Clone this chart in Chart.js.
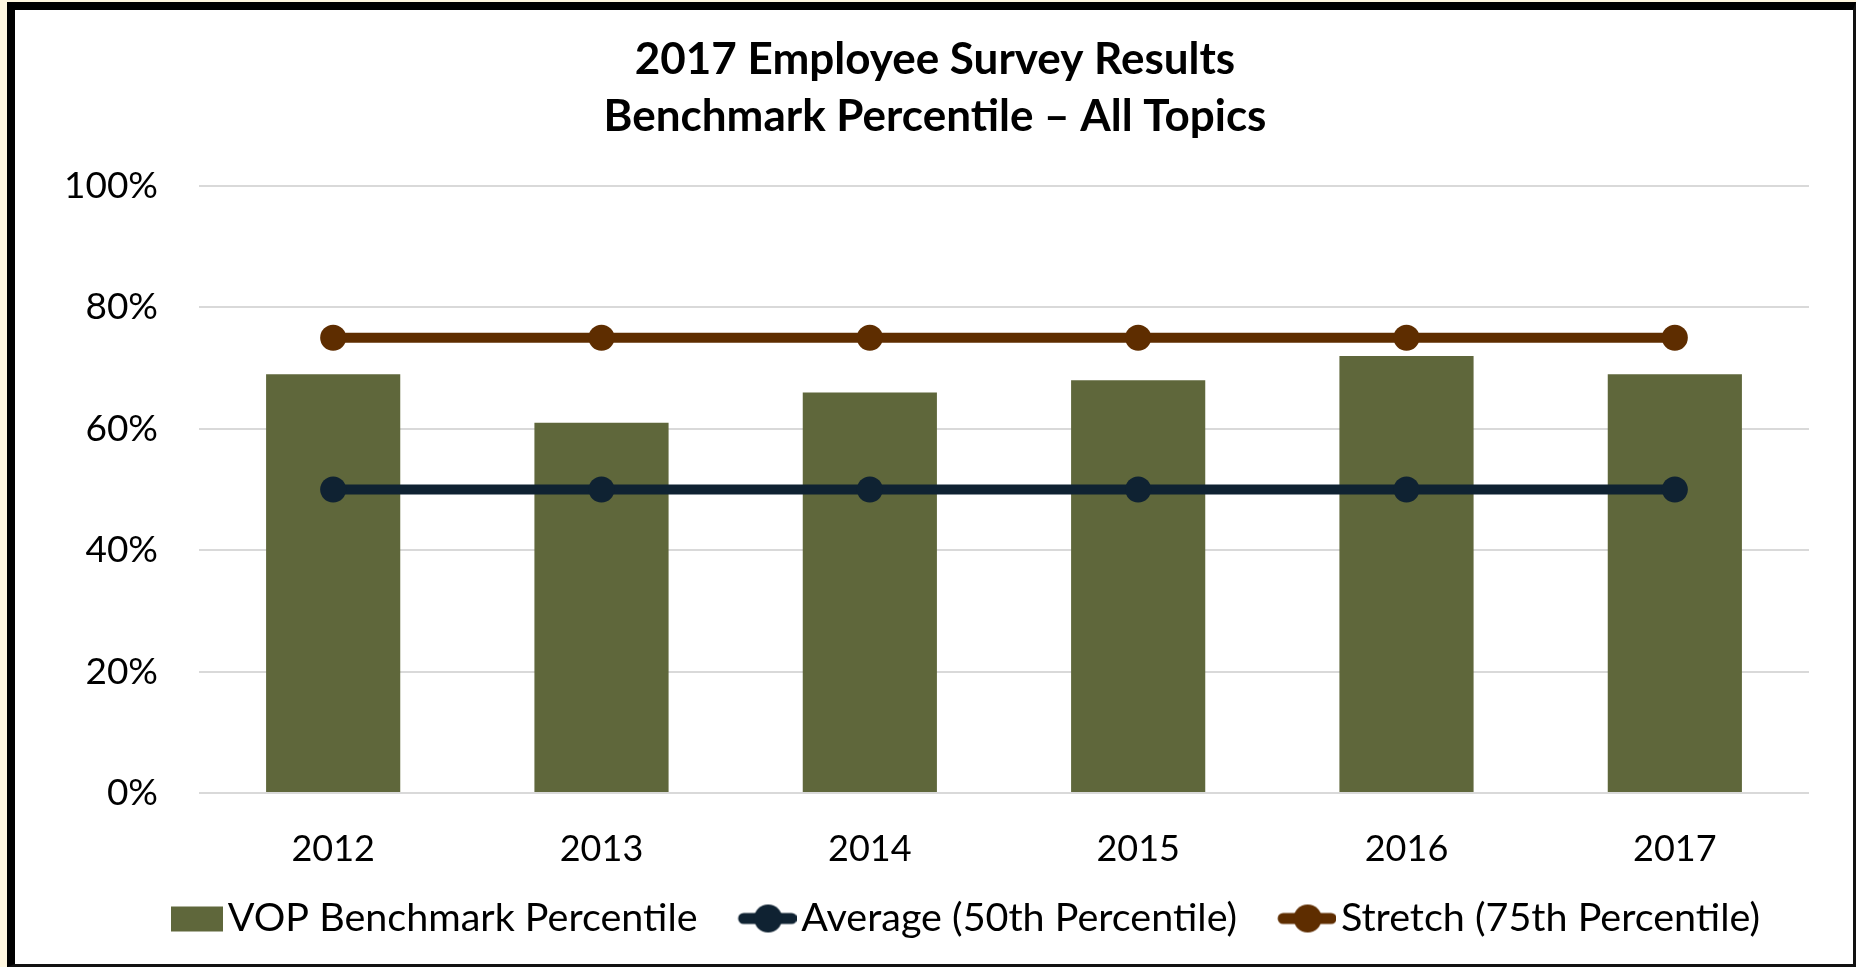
<!DOCTYPE html>
<html>
<head>
<meta charset="utf-8">
<script src="https://cdn.jsdelivr.net/npm/chart.js@4.4.1/dist/chart.umd.min.js"></script>
<style>
  html, body { margin: 0; padding: 0; background: #FFF7E0; width: 1856px; height: 967px; overflow: hidden; }
  #frame {
    position: absolute; left: 7px; top: 2px;
    width: 1838px; height: 954px;
    background: #ffffff;
    border-left: 8px solid #000; border-top: 8px solid #000;
    border-right: 3px solid #111; border-bottom: 3px solid #111;
  }
  #chart { display: block; }
</style>
</head>
<body>
<div id="frame"><canvas id="chart" width="1838" height="954"></canvas></div>
<script>
// Survey years
const years = ['2012', '2013', '2014', '2015', '2016', '2017'];
// VOP benchmark percentile per year (%)
const vopPercentile = [69, 61, 66, 68, 72, 69];
// Reference lines (%)
const averageLine = [50, 50, 50, 50, 50, 50];
const stretchLine = [75, 75, 75, 75, 75, 75];
// Y axis ticks (%)
const yTicks = [0, 20, 40, 60, 80, 100];

const seriesNames = ['VOP Benchmark Percentile', 'Average (50th Percentile)', 'Stretch (75th Percentile)'];
const titleLines = ['2017 Employee Survey Results', 'Benchmark Percentile \u2013 All Topics'];

const OLIVE = '#5F673B';
const NAVY = '#0F2232';
const BROWN = '#5E2D00';
const FONT = 'Lato, "Open Sans", sans-serif';

// Legend swatches: a filled box for the bars, a line with a dot for the lines
function swatchRect(color) {
  const c = document.createElement('canvas');
  c.width = 104; c.height = 28;
  const g = c.getContext('2d');
  g.fillStyle = color;
  g.fillRect(52, 2, 52, 25);
  return c;
}
function swatchLine(color) {
  const c = document.createElement('canvas');
  c.width = 104; c.height = 30;
  const g = c.getContext('2d');
  g.strokeStyle = color; g.lineWidth = 11; g.lineCap = 'round';
  g.beginPath(); g.moveTo(51, 15); g.lineTo(99, 15); g.stroke();
  g.fillStyle = color;
  g.beginPath(); g.arc(75.5, 15, 14, 0, Math.PI * 2); g.fill();
  return c;
}
const swatches = [swatchRect(OLIVE), swatchLine(NAVY), swatchLine(BROWN)];

// Nudge title and legend horizontally; keep glyphs unligated
const boxShift = {
  id: 'boxShift',
  beforeInit(chart) {
    try { chart.ctx.letterSpacing = '0.2px'; } catch (e) {}
  },
  afterLayout(chart) {
    const lg = chart.legend;
    if (lg) { lg.left += 35; lg.right += 35; }
    const tt = chart.titleBlock;
    if (tt) { tt.left += 23; tt.right += 23; }
  }
};

new Chart(document.getElementById('chart'), {
  data: {
    labels: years,
    datasets: [
      {
        type: 'bar', label: seriesNames[0], data: vopPercentile,
        backgroundColor: OLIVE, borderWidth: 0,
        categoryPercentage: 1.0, barPercentage: 0.5, order: 3
      },
      {
        type: 'line', label: seriesNames[1], data: averageLine,
        borderColor: NAVY, backgroundColor: NAVY, borderWidth: 10,
        pointRadius: 13, pointHoverRadius: 13, pointBorderWidth: 0,
        pointBackgroundColor: NAVY, fill: false, order: 2
      },
      {
        type: 'line', label: seriesNames[2], data: stretchLine,
        borderColor: BROWN, backgroundColor: BROWN, borderWidth: 10,
        pointRadius: 13, pointHoverRadius: 13, pointBorderWidth: 0,
        pointBackgroundColor: BROWN, fill: false, order: 1
      }
    ]
  },
  options: {
    responsive: false,
    animation: false,
    layout: { padding: { top: 0, left: 0, right: 44, bottom: 15.75 } },
    plugins: {
      tooltip: { enabled: false },
      title: {
        display: true, text: titleLines, color: '#000',
        font: { family: FONT, size: 44, weight: 'bold', lineHeight: 57 / 44 },
        padding: { top: 21.5, bottom: 40.5 }
      },
      legend: {
        position: 'bottom',
        labels: {
          usePointStyle: true, pointStyleWidth: 74, padding: 10,
          color: '#000', font: { family: FONT, size: 39.5 },
          sort: (a, b) => a.datasetIndex - b.datasetIndex,
          generateLabels(chart) {
            const items = Chart.defaults.plugins.legend.labels.generateLabels(chart);
            items.forEach(it => { it.pointStyle = swatches[it.datasetIndex]; it.lineWidth = 0; });
            return items;
          }
        }
      }
    },
    scales: {
      x: {
        grid: { display: false, drawTicks: false },
        border: { display: false },
        ticks: { color: '#000', font: { family: FONT, size: 36 }, padding: 35 },
        afterFit(scale) { scale.height = 95.75; }
      },
      y: {
        min: 0, max: 100,
        afterBuildTicks(scale) { scale.ticks = yTicks.map(v => ({ value: v })); },
        grid: { color: '#D9D9D9', lineWidth: 2, drawTicks: false },
        border: { display: false },
        ticks: { color: '#000', font: { family: FONT, size: 37 }, padding: 41, callback: v => v + '%' },
        afterFit(scale) { scale.width = 184; }
      }
    }
  },
  plugins: [boxShift]
});
</script>
</body>
</html>
